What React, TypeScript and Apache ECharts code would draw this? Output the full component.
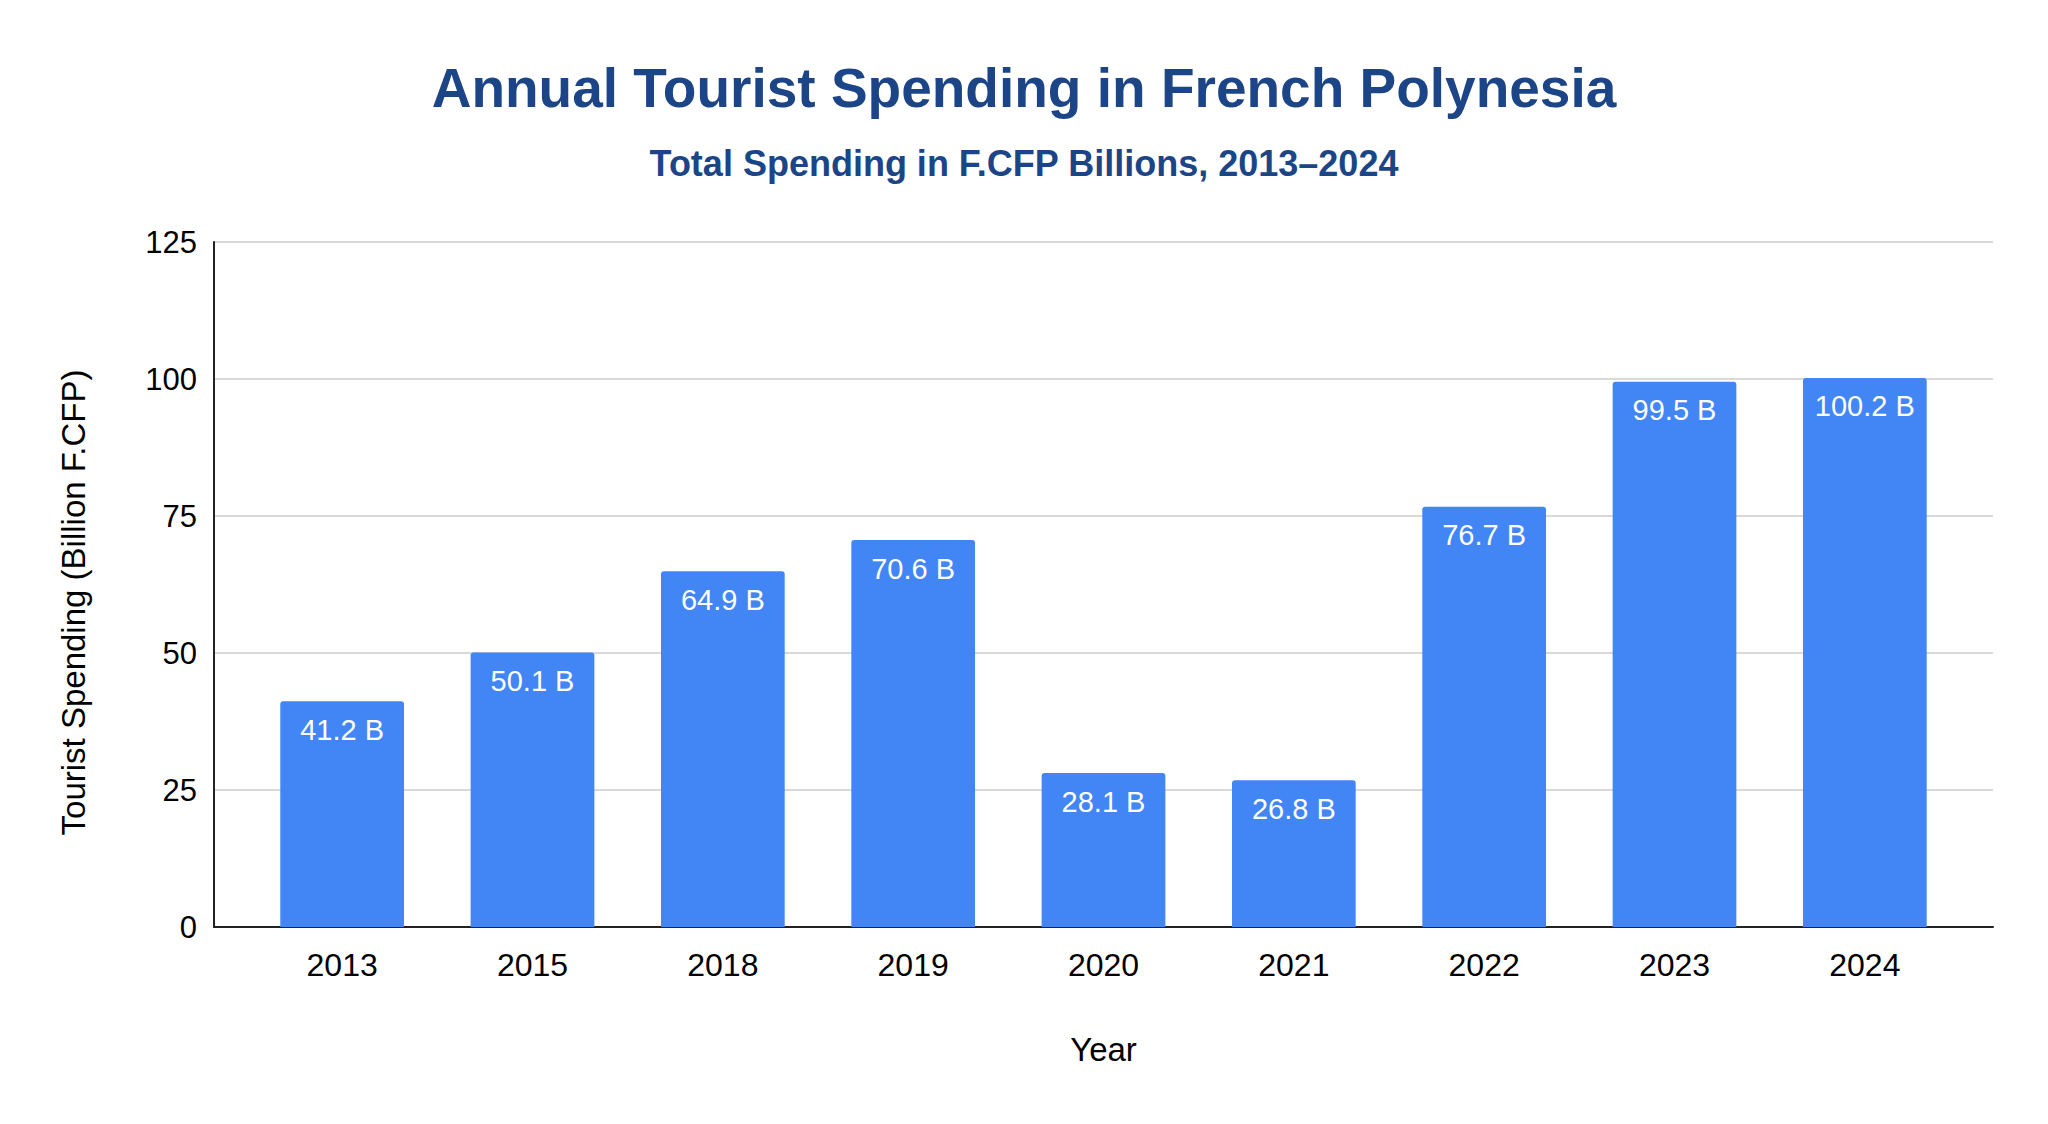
import React, { useEffect, useRef } from "react";
import * as echarts from "echarts";

const years = ["2013", "2015", "2018", "2019", "2020", "2021", "2022", "2023", "2024"];
const spending = [41.2, 50.1, 64.9, 70.6, 28.1, 26.8, 76.7, 99.5, 100.2];
const titleText = "Annual Tourist Spending in French Polynesia";
const subtitleText = "Total Spending in F.CFP Billions, 2013–2024";
const yAxisName = "Tourist Spending (Billion F.CFP)";
const xAxisName = "Year";

export default function App() {
  const ref = useRef<HTMLDivElement>(null);
  useEffect(() => {
    if (!ref.current) return;
    const chart = echarts.init(ref.current, null, { renderer: "svg" });
    const font = "'Liberation Sans', Arial, sans-serif";
    const top = 242;
    const bottom = 197;
    chart.setOption({
      animation: false,
      backgroundColor: "#ffffff",
      textStyle: { fontFamily: font },
      title: [
        {
          text: titleText,
          left: "center",
          top: 55,
          textStyle: { fontFamily: font, fontSize: 55, fontWeight: "bold", color: "#1c4587" },
        },
        {
          text: subtitleText,
          left: "center",
          top: 140,
          textStyle: { fontFamily: font, fontSize: 36, fontWeight: "bold", color: "#1c4587" },
        },
      ],
      grid: [
        { left: 214, right: 55, top, bottom, containLabel: false },
        { left: 247, right: 88, top, bottom, containLabel: false },
      ],
      xAxis: [
        {
          type: "category",
          gridIndex: 0,
          data: years,
          axisLine: { show: true, lineStyle: { color: "#222222", width: 2 } },
          axisTick: { show: false },
          axisLabel: { show: false },
          splitLine: { show: false },
        },
        {
          type: "category",
          gridIndex: 1,
          data: years,
          name: xAxisName,
          nameLocation: "middle",
          nameGap: 106,
          nameTextStyle: { fontFamily: font, fontSize: 33, color: "#000000" },
          axisLine: { show: false },
          axisTick: { show: false },
          axisLabel: { fontFamily: font, fontSize: 32, color: "#000000", margin: 22 },
        },
      ],
      yAxis: [
        {
          type: "value",
          gridIndex: 0,
          min: 0,
          max: 125,
          interval: 25,
          name: yAxisName,
          nameLocation: "middle",
          nameGap: 124,
          nameRotate: 90,
          nameTextStyle: { fontFamily: font, fontSize: 33, color: "#000000", padding: [0, 36, 0, 0] },
          axisLine: { show: true, lineStyle: { color: "#222222", width: 2 } },
          axisTick: { show: false },
          axisLabel: { fontFamily: font, fontSize: 31, color: "#000000", margin: 17 },
          splitLine: { show: true, lineStyle: { color: "#cccccc", width: 1.5 } },
        },
        {
          type: "value",
          gridIndex: 1,
          min: 0,
          max: 125,
          interval: 25,
          axisLine: { show: false },
          axisTick: { show: false },
          axisLabel: { show: false },
          splitLine: { show: false },
        },
      ],
      series: [
        {
          type: "bar",
          xAxisIndex: 1,
          yAxisIndex: 1,
          data: spending,
          barCategoryGap: "35%",
          itemStyle: { color: "#4285f4", borderRadius: [3, 3, 0, 0] },
          label: {
            show: true,
            position: "insideTop",
            distance: 14,
            color: "#ffffff",
            fontFamily: font,
            fontSize: 29,
            formatter: (p: any) => p.value.toFixed(1) + " B",
          },
        },
      ],
    });
    return () => chart.dispose();
  }, []);
  return (
    <div
      ref={ref}
      style={{ position: "fixed", left: 0, top: 0, width: 2048, height: 1124, background: "#fff" }}
    />
  );
}
